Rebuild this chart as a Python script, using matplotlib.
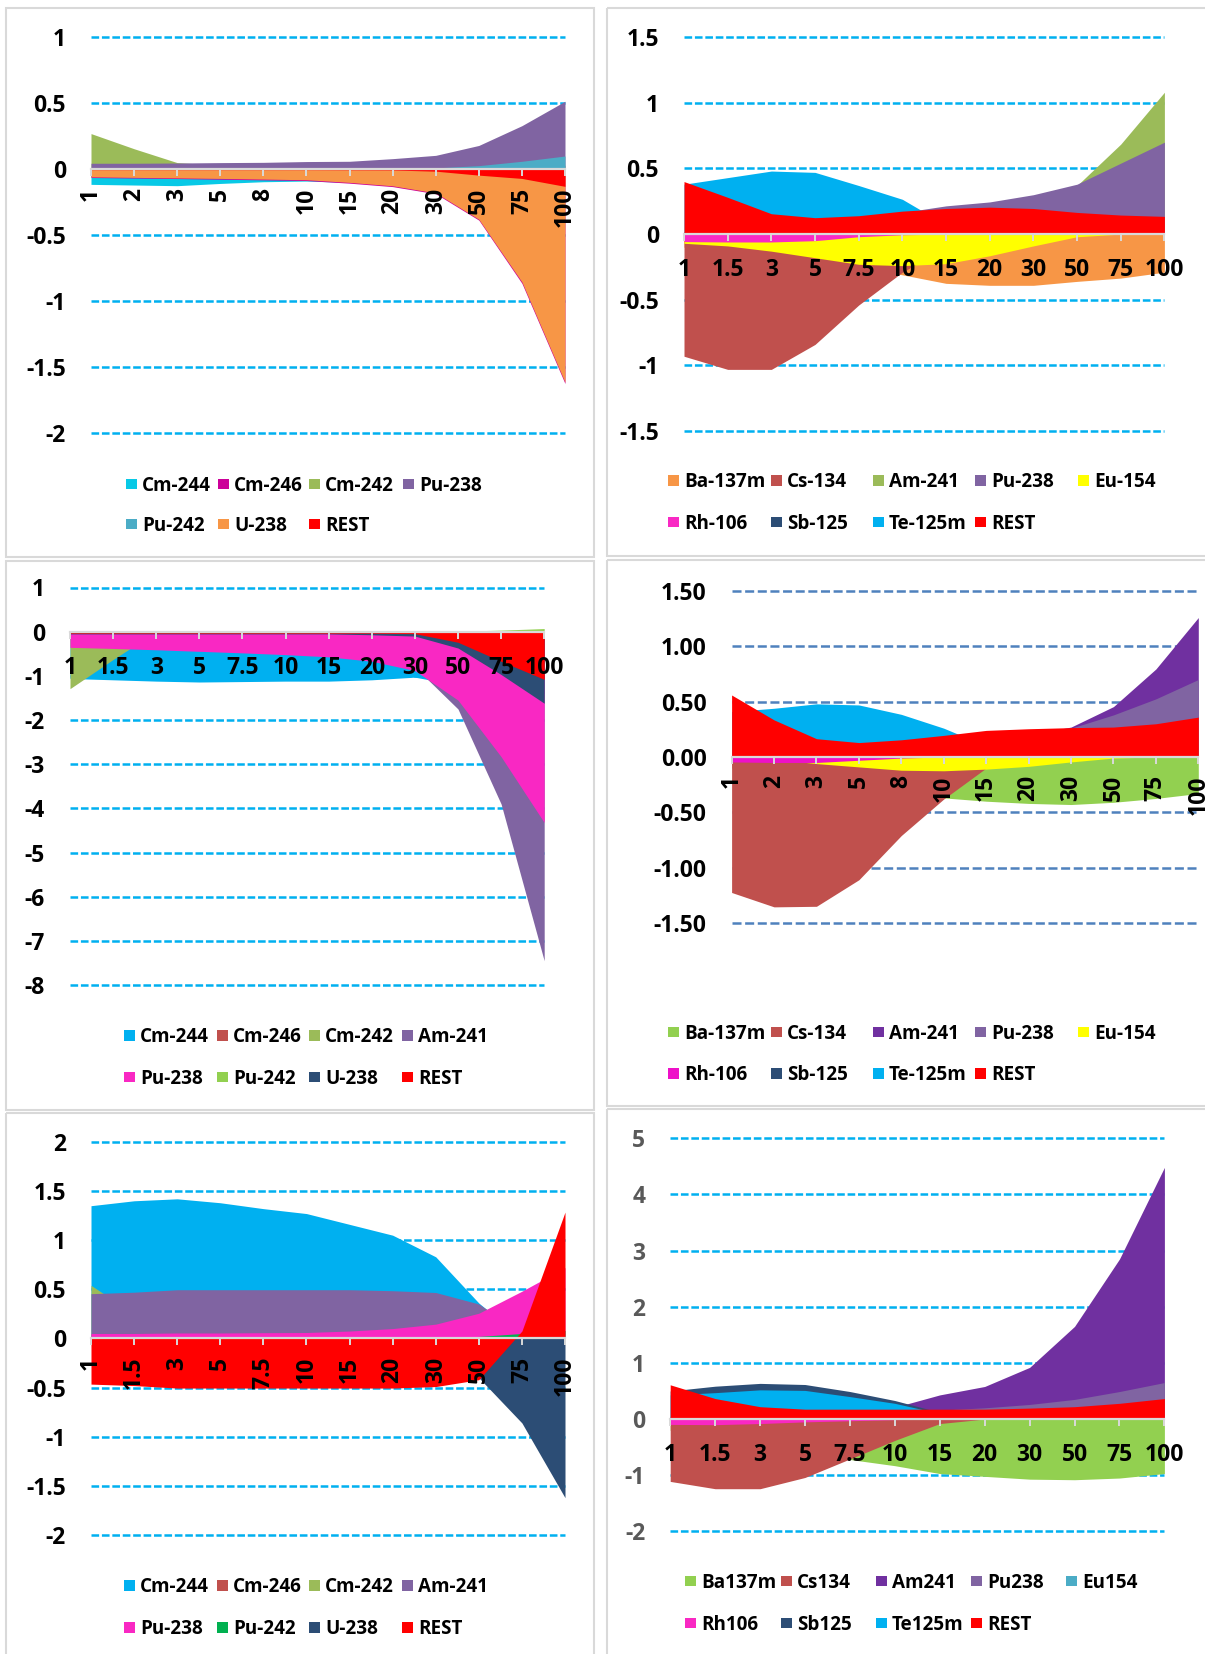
import matplotlib
matplotlib.use("Agg")
import matplotlib.pyplot as plt
from matplotlib.patches import Rectangle

plt.rcParams["font.family"] = ["Open Sans", "DejaVu Sans"]
plt.rcParams["font.weight"] = "bold"
plt.rcParams["lines.scale_dashes"] = False

# ---------------------------------------------------------------- categories
CATS_A = ["1", "2", "3", "5", "8", "10", "15", "20", "30", "50", "75", "100"]
CATS_B = ["1", "1.5", "3", "5", "7.5", "10", "15", "20", "30", "50", "75", "100"]

# ---------------------------------------------------------------- panel 1
P1_NAMES = ["Cm-244", "Cm-246", "Cm-242", "Pu-238", "Pu-242", "U-238", "REST"]
P1_CM244 = [-0.115, -0.12, -0.125, -0.108, -0.095, -0.09, -0.10, -0.08, -0.06, -0.05, -0.04, -0.03]
P1_CM246 = [-0.063, -0.067, -0.071, -0.076, -0.081, -0.086, -0.106, -0.132, -0.186, -0.386, -0.865, -1.625]
P1_CM242 = [0.27, 0.155, 0.05, 0.03, 0.03, 0.03, 0.03, 0.03, 0.03, 0.03, 0.03, 0.03]
P1_PU238 = [0.045, 0.045, 0.047, 0.05, 0.052, 0.058, 0.06, 0.08, 0.105, 0.18, 0.33, 0.515]
P1_PU242 = [0.004, 0.004, 0.004, 0.005, 0.005, 0.006, 0.007, 0.008, 0.01, 0.027, 0.06, 0.10]
P1_U238 = [-0.058, -0.062, -0.066, -0.07, -0.075, -0.08, -0.10, -0.126, -0.18, -0.38, -0.855, -1.615]
P1_REST = [-0.004, -0.004, -0.004, -0.004, -0.004, -0.004, -0.005, -0.006, -0.015, -0.045, -0.07, -0.13]
P1_YTICKS = [1, 0.5, 0, -0.5, -1, -1.5, -2]
P1_YLABELS = ["1", "0.5", "0", "-0.5", "-1", "-1.5", "-2"]

# ---------------------------------------------------------------- panel 2
P2_NAMES = ["Ba-137m", "Cs-134", "Am-241", "Pu-238", "Eu-154", "Rh-106", "Sb-125", "Te-125m", "REST"]
P2_BA137M = [-0.10, -0.12, -0.15, -0.20, -0.25, -0.31, -0.375, -0.39, -0.39, -0.36, -0.335, -0.29]
P2_CS134 = [-0.93, -1.03, -1.03, -0.84, -0.54, -0.29, -0.10, 0.0, 0.0, 0.0, 0.0, 0.0]
P2_AM241 = [0.0, 0.0, 0.0, 0.0, 0.05, 0.10, 0.15, 0.20, 0.25, 0.37, 0.685, 1.08]
P2_PU238 = [0.02, 0.03, 0.05, 0.08, 0.12, 0.165, 0.215, 0.245, 0.30, 0.38, 0.54, 0.70]
P2_EU154 = [-0.07, -0.09, -0.13, -0.18, -0.23, -0.24, -0.225, -0.165, -0.09, -0.02, 0.0, 0.0]
P2_RH106 = [-0.057, -0.06, -0.06, -0.05, -0.02, -0.005, 0.0, 0.0, 0.0, 0.0, 0.0, 0.0]
P2_SB125 = [0.0, 0.0, 0.0, 0.0, 0.0, 0.0, 0.0, 0.0, 0.0, 0.0, 0.0, 0.0]
P2_TE125M = [0.38, 0.43, 0.48, 0.47, 0.37, 0.265, 0.07, 0.02, 0.01, 0.0, 0.0, 0.0]
P2_REST = [0.40, 0.28, 0.155, 0.125, 0.14, 0.175, 0.195, 0.205, 0.195, 0.165, 0.145, 0.135]
P2_YTICKS = [1.5, 1, 0.5, 0, -0.5, -1, -1.5]
P2_YLABELS = ["1.5", "1", "0.5", "0", "-0.5", "-1", "-1.5"]

# ---------------------------------------------------------------- panel 3
P3_NAMES = ["Cm-244", "Cm-246", "Cm-242", "Am-241", "Pu-238", "Pu-242", "U-238", "REST"]
P3_CM244 = [-1.06, -1.09, -1.12, -1.14, -1.13, -1.12, -1.12, -1.09, -1.03, -1.21, -1.30, -1.40]
P3_CM246 = [-0.02, -0.02, -0.02, -0.02, -0.02, -0.02, -0.02, -0.02, -0.03, -0.05, -0.08, -0.10]
P3_CM242 = [-1.29, -0.63, 0.0, 0.0, 0.0, 0.0, 0.0, 0.0, 0.0, 0.0, 0.0, 0.0]
P3_AM241 = [-0.15, -0.16, -0.17, -0.18, -0.20, -0.22, -0.28, -0.40, -0.80, -1.75, -3.90, -7.45]
P3_PU238 = [-0.355, -0.38, -0.41, -0.445, -0.48, -0.52, -0.57, -0.67, -0.88, -1.55, -2.83, -4.32]
P3_PU242 = [0.0, 0.0, 0.0, 0.0, 0.0, 0.0, 0.0, 0.0, 0.0, 0.01, 0.035, 0.07]
P3_U238 = [-0.05, -0.05, -0.05, -0.05, -0.05, -0.05, -0.05, -0.07, -0.10, -0.37, -0.97, -1.62]
P3_REST = [-0.035, -0.035, -0.035, -0.035, -0.035, -0.035, -0.035, -0.035, -0.045, -0.24, -0.67, -1.08]
P3_YTICKS = [1, 0, -1, -2, -3, -4, -5, -6, -7, -8]
P3_YLABELS = ["1", "0", "-1", "-2", "-3", "-4", "-5", "-6", "-7", "-8"]

# ---------------------------------------------------------------- panel 4
P4_NAMES = ["Ba-137m", "Cs-134", "Am-241", "Pu-238", "Eu-154", "Rh-106", "Sb-125", "Te-125m", "REST"]
P4_BA137M = [-0.10, -0.15, -0.20, -0.25, -0.30, -0.37, -0.40, -0.42, -0.43, -0.41, -0.375, -0.33]
P4_CS134 = [-1.225, -1.355, -1.35, -1.11, -0.71, -0.38, -0.10, 0.0, 0.0, 0.0, 0.0, 0.0]
P4_AM241 = [0.05, 0.06, 0.07, 0.08, 0.10, 0.13, 0.17, 0.20, 0.27, 0.455, 0.795, 1.26]
P4_PU238 = [0.02, 0.03, 0.05, 0.07, 0.10, 0.12, 0.15, 0.20, 0.26, 0.38, 0.525, 0.70]
P4_EU154 = [-0.01, -0.02, -0.06, -0.09, -0.12, -0.125, -0.11, -0.085, -0.045, -0.01, 0.0, 0.0]
P4_RH106 = [-0.045, -0.05, -0.05, -0.03, -0.01, 0.0, 0.0, 0.0, 0.0, 0.0, 0.0, 0.0]
P4_SB125 = [0.0, 0.0, 0.0, 0.0, 0.0, 0.0, 0.0, 0.0, 0.0, 0.0, 0.0, 0.0]
P4_TE125M = [0.41, 0.44, 0.48, 0.47, 0.385, 0.26, 0.10, 0.05, 0.02, 0.0, 0.0, 0.0]
P4_REST = [0.56, 0.335, 0.165, 0.13, 0.155, 0.195, 0.24, 0.255, 0.265, 0.27, 0.30, 0.36]
P4_YTICKS = [1.5, 1.0, 0.5, 0.0, -0.5, -1.0, -1.5]
P4_YLABELS = ["1.50", "1.00", "0.50", "0.00", "-0.50", "-1.00", "-1.50"]

# ---------------------------------------------------------------- panel 5
P5_NAMES = ["Cm-244", "Cm-246", "Cm-242", "Am-241", "Pu-238", "Pu-242", "U-238", "REST"]
P5_CM244 = [1.35, 1.40, 1.42, 1.38, 1.32, 1.27, 1.16, 1.05, 0.83, 0.36, 0.0, 0.0]
P5_CM246 = [0.0, 0.0, 0.0, 0.0, 0.0, 0.0, 0.0, 0.0, 0.0, 0.0, 0.0, 0.0]
P5_CM242 = [0.54, 0.25, 0.20, 0.20, 0.20, 0.20, 0.20, 0.20, 0.20, 0.10, 0.0, 0.0]
P5_AM241 = [0.455, 0.47, 0.495, 0.495, 0.495, 0.495, 0.495, 0.485, 0.467, 0.35, 0.05, 0.0]
P5_PU238 = [0.05, 0.05, 0.055, 0.055, 0.058, 0.06, 0.075, 0.10, 0.145, 0.256, 0.48, 0.72]
P5_PU242 = [0.0, 0.0, 0.0, 0.0, 0.0, 0.0, 0.0, 0.0, 0.005, 0.02, 0.05, 0.08]
P5_U238 = [-0.05, -0.05, -0.05, -0.05, -0.05, -0.05, -0.05, -0.05, -0.05, -0.40, -0.86, -1.62]
P5_REST = [-0.465, -0.48, -0.505, -0.505, -0.505, -0.505, -0.505, -0.505, -0.49, -0.42, 0.075, 1.285]
P5_YTICKS = [2, 1.5, 1, 0.5, 0, -0.5, -1, -1.5, -2]
P5_YLABELS = ["2", "1.5", "1", "0.5", "0", "-0.5", "-1", "-1.5", "-2"]

# ---------------------------------------------------------------- panel 6
P6_NAMES = ["Ba137m", "Cs134", "Am241", "Pu238", "Eu154", "Rh106", "Sb125", "Te125m", "REST"]
P6_BA137M = [-0.20, -0.30, -0.40, -0.50, -0.72, -0.83, -0.97, -1.02, -1.07, -1.08, -1.05, -0.97]
P6_CS134 = [-1.11, -1.24, -1.24, -1.04, -0.71, -0.38, -0.08, 0.0, 0.0, 0.0, 0.0, 0.0]
P6_AM241 = [0.05, 0.06, 0.08, 0.10, 0.15, 0.21, 0.43, 0.58, 0.92, 1.65, 2.85, 4.48]
P6_PU238 = [0.02, 0.02, 0.03, 0.04, 0.06, 0.10, 0.16, 0.20, 0.26, 0.35, 0.49, 0.65]
P6_EU154 = [0.0, 0.0, 0.0, 0.0, 0.0, 0.0, 0.0, 0.0, 0.0, 0.0, 0.0, 0.0]
P6_RH106 = [-0.095, -0.10, -0.08, -0.05, -0.03, -0.01, 0.0, 0.0, 0.0, 0.0, 0.0, 0.0]
P6_SB125 = [0.50, 0.585, 0.635, 0.615, 0.49, 0.33, 0.12, 0.0, 0.0, 0.0, 0.0, 0.0]
P6_TE125M = [0.43, 0.47, 0.52, 0.51, 0.40, 0.28, 0.10, 0.0, 0.0, 0.0, 0.0, 0.0]
P6_REST = [0.61, 0.365, 0.22, 0.176, 0.176, 0.176, 0.176, 0.176, 0.195, 0.22, 0.28, 0.365]
P6_YTICKS = [5, 4, 3, 2, 1, 0, -1, -2]
P6_YLABELS = ["5", "4", "3", "2", "1", "0", "-1", "-2"]

# ---------------------------------------------------------------- styling
RED = "#FF0000"
P1_COLORS = ["#08C9E6", "#CC0099", "#9BBB59", "#8064A2", "#4BACC6", "#F79646", RED]
P2_COLORS = ["#F79646", "#C0504D", "#9BBB59", "#8064A2", "#FFFF00", "#F929C4", "#2C4D75", "#00B0F0", RED]
P3_COLORS = ["#00B0F0", "#C0504D", "#9BBB59", "#8064A2", "#F928C3", "#92D050", "#2C4D75", RED]
P4_COLORS = ["#92D050", "#C0504D", "#7030A0", "#8064A2", "#FFFF00", "#EE10C8", "#2C4D75", "#00B0F0", RED]
P5_COLORS = ["#00B0F0", "#C0504D", "#9BBB59", "#8064A2", "#F928C3", "#00B050", "#2C4D75", RED]
P6_COLORS = ["#92D050", "#C0504D", "#7030A0", "#8064A2", "#4BACC6", "#F928C3", "#2C4D75", "#00B0F0", RED]

GRID_CYAN = "#00B0F0"
GRID_STEEL = "#4F81BD"
BORDER = "#D9D9D9"

TICK_SIZE = 16.5
LEGEND_SIZE = 13.6

FIG_W, FIG_H = 1205, 1654
fig = plt.figure(figsize=(FIG_W / 100, FIG_H / 100), dpi=100)
fig.patch.set_facecolor("white")

# pixel-space layer for chart frames and legends
overlay = fig.add_axes([0, 0, 1, 1], zorder=0)
overlay.set_xlim(0, FIG_W)
overlay.set_ylim(FIG_H, 0)
overlay.axis("off")


def add_frame(x0, y0, x1, y1):
    overlay.add_patch(Rectangle((x0, y0), x1 - x0, y1 - y0, fill=False,
                                ec=BORDER, lw=1.5, clip_on=False))


def add_legend(names, colors, col_x, row_y, ncol):
    for i, (name, col) in enumerate(zip(names, colors)):
        r, c = divmod(i, ncol)
        x, y = col_x[c], row_y[r]
        overlay.add_patch(Rectangle((x, y - 5.4), 10.8, 10.8, fc=col, ec="none"))
        overlay.text(x + 16.0, y + 6.7, name, ha="left", va="baseline",
                     fontsize=LEGEND_SIZE, fontweight="bold", color="black")


def add_panel(box, cats, series, colors, yticks, ylabels, rotate, grid_color,
              dashes, ylabel_color="black"):
    x0, y0, x1, y1 = box
    ax = fig.add_axes([x0 / FIG_W, 1 - y1 / FIG_H, (x1 - x0) / FIG_W, (y1 - y0) / FIG_H],
                      zorder=1)
    ax.patch.set_visible(False)
    # category axis sits on the zero line
    for s in ("left", "right", "top"):
        ax.spines[s].set_visible(False)
    ax.spines["bottom"].set_position(("data", 0))
    ax.spines["bottom"].set_color(BORDER)
    ax.spines["bottom"].set_linewidth(1.6)
    ax.spines["bottom"].set_zorder(4)

    pos = list(range(len(cats)))
    # overlapping (non-stacked) areas, first series at the back
    for vals, col in zip(series, colors):
        ax.fill_between(pos, 0, vals, color=col, lw=0, zorder=2)
    for t in yticks:
        if t != 0:
            ax.axhline(t, color=grid_color, lw=1.8, dashes=dashes, zorder=1, clip_on=False)
    ax.set_xlim(0, len(cats) - 1)
    ax.set_ylim(min(yticks), max(yticks))
    ax.set_yticks(yticks)
    ax.set_yticklabels(ylabels)
    ax.tick_params(axis="y", length=0, pad=18, labelsize=TICK_SIZE, labelcolor=ylabel_color)
    ax.set_xticks(pos)
    ax.set_xticklabels(cats)
    ax.tick_params(axis="x", direction="out", length=4.7, width=1.4, color=BORDER,
                   pad=8.5 if rotate else 12.5, labelsize=TICK_SIZE, labelcolor="black",
                   labelrotation=90 if rotate else 0)
    for lab in ax.get_xticklabels() + ax.get_yticklabels():
        lab.set_fontweight("bold")
    ax.xaxis.set_zorder(5)
    return ax


CYAN_DASH = (5.5, 2.0)
STEEL_DASH = (6.5, 2.6)

# frames
add_frame(6, 8, 594, 557)
add_frame(607, 8, 1212, 556)
add_frame(6, 561, 594, 1110)
add_frame(607, 560, 1212, 1106)
add_frame(6, 1113, 594, 1662)
add_frame(607, 1109, 1212, 1662)

# top left
add_panel((91, 37.3, 565, 433), CATS_A,
          [P1_CM244, P1_CM246, P1_CM242, P1_PU238, P1_PU242, P1_U238, P1_REST],
          P1_COLORS, P1_YTICKS, P1_YLABELS, True, GRID_CYAN, CYAN_DASH)
add_legend(P1_NAMES, P1_COLORS, [126, 218, 309, 403], [484, 524], 4)

# top right
add_panel((684, 37.1, 1164.4, 431.1), CATS_B,
          [P2_BA137M, P2_CS134, P2_AM241, P2_PU238, P2_EU154, P2_RH106, P2_SB125, P2_TE125M, P2_REST],
          P2_COLORS, P2_YTICKS, P2_YLABELS, False, GRID_CYAN, CYAN_DASH)
add_legend(P2_NAMES, P2_COLORS, [668, 771, 873, 975, 1078], [480.5, 522], 5)

# middle left
add_panel((70, 587.5, 544.2, 985), CATS_B,
          [P3_CM244, P3_CM246, P3_CM242, P3_AM241, P3_PU238, P3_PU242, P3_U238, P3_REST],
          P3_COLORS, P3_YTICKS, P3_YLABELS, False, GRID_CYAN, CYAN_DASH)
add_legend(P3_NAMES, P3_COLORS, [124, 217, 309, 402], [1035.5, 1077], 4)

# middle right
add_panel((731.6, 591, 1198.3, 922.9), CATS_A,
          [P4_BA137M, P4_CS134, P4_AM241, P4_PU238, P4_EU154, P4_RH106, P4_SB125, P4_TE125M, P4_REST],
          P4_COLORS, P4_YTICKS, P4_YLABELS, True, GRID_STEEL, STEEL_DASH)
add_legend(P4_NAMES, P4_COLORS, [668, 771, 873, 975, 1078], [1032, 1073.5], 5)

# bottom left
add_panel((91, 1141.8, 565, 1535), CATS_B,
          [P5_CM244, P5_CM246, P5_CM242, P5_AM241, P5_PU238, P5_PU242, P5_U238, P5_REST],
          P5_COLORS, P5_YTICKS, P5_YLABELS, True, GRID_CYAN, CYAN_DASH)
add_legend(P5_NAMES, P5_COLORS, [124, 217, 309, 402], [1585.5, 1627.5], 4)

# bottom right
add_panel((670.2, 1138.2, 1164.4, 1531.4), CATS_B,
          [P6_BA137M, P6_CS134, P6_AM241, P6_PU238, P6_EU154, P6_RH106, P6_SB125, P6_TE125M, P6_REST],
          P6_COLORS, P6_YTICKS, P6_YLABELS, False, GRID_CYAN, CYAN_DASH, ylabel_color="#595959")
add_legend(P6_NAMES, P6_COLORS, [685, 781, 876, 971, 1066], [1581, 1623], 5)

fig.savefig("out.png", dpi=100, facecolor="white")
